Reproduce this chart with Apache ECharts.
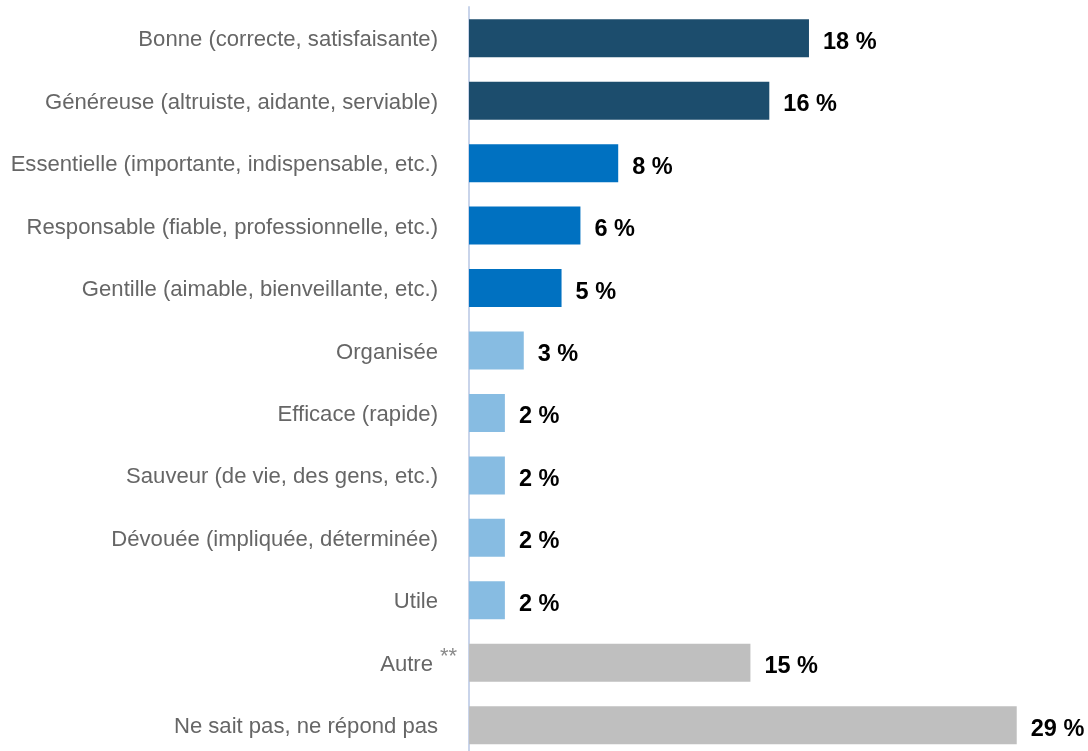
<!DOCTYPE html>
<html>
<head>
<meta charset="utf-8">
<script src="https://cdn.jsdelivr.net/npm/echarts@6/dist/echarts.min.js"></script>
<style>
html,body{margin:0;padding:0;background:#fff;}
#c{width:1088px;height:751px;}
</style>
</head>
<body>
<div id="c"></div>
<script>
const categories = [
  "Bonne (correcte, satisfaisante)",
  "Généreuse (altruiste, aidante, serviable)",
  "Essentielle (importante, indispensable, etc.)",
  "Responsable (fiable, professionnelle, etc.)",
  "Gentille (aimable, bienveillante, etc.)",
  "Organisée",
  "Efficace (rapide)",
  "Sauveur (de vie, des gens, etc.)",
  "Dévouée (impliquée, déterminée)",
  "Utile",
  "Autre**",
  "Ne sait pas, ne répond pas"
];
const values = [18, 15.9, 7.9, 5.9, 4.9, 2.9, 1.9, 1.9, 1.9, 1.9, 14.9, 29];
const groups = ["top", "top", "mid", "mid", "mid", "low", "low", "low", "low", "low", "other", "other"];

const groupColors = { top: "#1c4d6d", mid: "#0071c1", low: "#87bce2", other: "#bfbfbf" };
const FONT = "'Liberation Sans', Arial, sans-serif";

const catData = categories.map(c => c.endsWith('**')
  ? { value: c, textStyle: { padding: [0, -19, 0, 0] } }
  : c);

const chart = echarts.init(document.getElementById('c'));
chart.setOption({
  animation: false,
  grid: { left: 469, right: 14.6, top: 7, height: 749.4, containLabel: false, outerBoundsMode: 'none' },
  xAxis: {
    type: 'value', min: 0, max: 32, show: false
  },
  yAxis: {
    type: 'category',
    inverse: true,
    data: catData,
    axisTick: { show: false },
    axisLine: { show: true, lineStyle: { color: '#c9d4ea', width: 2 } },
    axisLabel: {
      margin: 31,
      color: '#666666',
      fontSize: 22.1,
      fontFamily: FONT,
      padding: [4, 0, 0, 0],
      formatter: function (v) {
        if (v.endsWith('**')) return '{a|' + v.slice(0, -2) + '}{s|**}';
        return v;
      },
      rich: {
        a: { fontSize: 22.1, lineHeight: 26, verticalAlign: 'bottom', color: '#666666', fontFamily: FONT },
        s: { fontSize: 22, width: 24, lineHeight: 22, padding: [0, 0, 8, 0], verticalAlign: 'bottom', color: '#8a8a8a', fontFamily: FONT }
      }
    }
  },
  series: [{
    type: 'bar',
    barWidth: 38,
    data: values.map((v, i) => ({ value: v, itemStyle: { color: groupColors[groups[i]] } })),
    label: {
      show: true,
      position: 'right',
      distance: 14,
      color: '#000',
      fontWeight: 'bold',
      fontSize: 23.5,
      fontFamily: FONT,
      offset: [0, 4],
      formatter: p => Math.round(p.value) + ' %'
    }
  }]
});
</script>
</body>
</html>
